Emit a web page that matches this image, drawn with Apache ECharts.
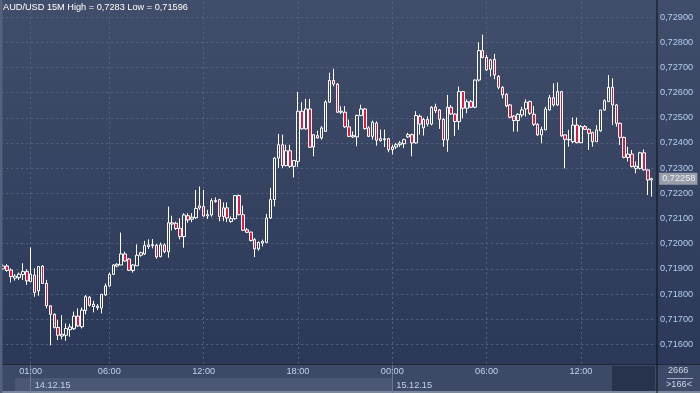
<!DOCTYPE html>
<html>
<head>
<meta charset="utf-8">
<script src="https://cdn.jsdelivr.net/npm/echarts@6/dist/echarts.min.js"></script>
<style>
html,body{margin:0;padding:0;background:#2c3958;}
#c{width:700px;height:393px;}
</style>
</head>
<body>
<div id="c"></div>
<script>
// ---- data (AUD/USD, 15 minute bars) ----
const startDay = 13, startMonth = 12, startYear = 15, startHour = 23, startMinute = 15;
const barCount = 166;

const openPrices = [
0.71900,0.71911,0.71895,0.71863,0.71865,0.71877,0.71889,0.71849,0.71875,0.71812,
0.71911,0.71842,0.71753,0.71719,0.71667,0.71633,0.71636,0.71658,0.71662,0.71712,
0.71670,0.71734,0.71787,0.71750,0.71746,0.71744,0.71796,0.71832,0.71878,0.71911,
0.71915,0.71959,0.71939,0.71893,0.71912,0.71954,0.71959,0.71988,0.71992,0.71993,
0.71948,0.71995,0.71968,0.72078,0.72081,0.72061,0.72028,0.72111,0.72097,0.72103,
0.72142,0.72148,0.72110,0.72114,0.72167,0.72175,0.72108,0.72142,0.72088,0.72099,
0.72191,0.72115,0.72055,0.72046,0.72016,0.71979,0.72002,0.72005,0.72102,0.72175,
0.72340,0.72393,0.72310,0.72369,0.72307,0.72327,0.72526,0.72456,0.72535,0.72384,
0.72429,0.72420,0.72446,0.72562,0.72648,0.72634,0.72522,0.72522,0.72464,0.72424,
0.72424,0.72509,0.72535,0.72460,0.72426,0.72479,0.72409,0.72413,0.72417,0.72373,
0.72384,0.72393,0.72397,0.72424,0.72433,0.72400,0.72506,0.72460,0.72493,0.72475,
0.72543,0.72531,0.72494,0.72412,0.72542,0.72515,0.72485,0.72604,0.72538,0.72564,
0.72542,0.72650,0.72767,0.72740,0.72693,0.72732,0.72664,0.72621,0.72593,0.72551,
0.72507,0.72489,0.72511,0.72535,0.72565,0.72514,0.72474,0.72432,0.72452,0.72531,
0.72580,0.72551,0.72604,0.72432,0.72412,0.72405,0.72471,0.72401,0.72465,0.72454,
0.72441,0.72405,0.72448,0.72531,0.72564,0.72621,0.72551,0.72478,0.72422,0.72342,
0.72356,0.72299,0.72299,0.72361,0.72293,0.72253
];
const closePrices = [
0.71911,0.71893,0.71869,0.71871,0.71879,0.71889,0.71852,0.71879,0.71806,0.71909,
0.71842,0.71753,0.71719,0.71667,0.71636,0.71640,0.71663,0.71669,0.71712,0.71673,
0.71736,0.71789,0.71755,0.71759,0.71752,0.71799,0.71832,0.71878,0.71915,0.71918,
0.71959,0.71931,0.71894,0.71915,0.71954,0.71964,0.71992,0.71995,0.71996,0.71947,
0.71995,0.71968,0.72083,0.72083,0.72060,0.72028,0.72114,0.72094,0.72105,0.72140,
0.72150,0.72110,0.72115,0.72171,0.72171,0.72108,0.72142,0.72102,0.72099,0.72191,
0.72115,0.72053,0.72045,0.72012,0.71979,0.72005,0.72009,0.72102,0.72175,0.72340,
0.72393,0.72310,0.72369,0.72307,0.72330,0.72526,0.72456,0.72535,0.72383,0.72433,
0.72420,0.72460,0.72563,0.72648,0.72634,0.72522,0.72526,0.72464,0.72426,0.72429,
0.72509,0.72535,0.72457,0.72426,0.72482,0.72411,0.72417,0.72417,0.72373,0.72384,
0.72393,0.72400,0.72413,0.72433,0.72400,0.72509,0.72475,0.72493,0.72475,0.72542,
0.72528,0.72494,0.72412,0.72542,0.72515,0.72485,0.72604,0.72538,0.72564,0.72542,
0.72650,0.72767,0.72740,0.72690,0.72730,0.72670,0.72621,0.72591,0.72547,0.72502,
0.72489,0.72514,0.72531,0.72562,0.72518,0.72474,0.72432,0.72454,0.72535,0.72580,
0.72551,0.72604,0.72428,0.72414,0.72414,0.72471,0.72401,0.72465,0.72454,0.72438,
0.72405,0.72452,0.72531,0.72568,0.72621,0.72551,0.72478,0.72422,0.72343,0.72356,
0.72306,0.72308,0.72361,0.72293,0.72253,0.72258
];
const highPrices = [
0.71918,0.71918,0.71902,0.71879,0.71885,0.71922,0.71898,0.71985,0.71902,0.71911,
0.71915,0.71856,0.71755,0.71723,0.71697,0.71716,0.71683,0.71681,0.71730,0.71743,
0.71746,0.71796,0.71792,0.71773,0.71760,0.71799,0.71842,0.71885,0.71919,0.71922,
0.72044,0.71968,0.71942,0.71919,0.71997,0.71968,0.72011,0.72017,0.72018,0.71999,
0.72004,0.72001,0.72147,0.72111,0.72087,0.72101,0.72121,0.72121,0.72121,0.72213,
0.72227,0.72213,0.72134,0.72180,0.72184,0.72178,0.72164,0.72164,0.72108,0.72193,
0.72195,0.72151,0.72062,0.72047,0.72022,0.72009,0.72016,0.72118,0.72221,0.72343,
0.72436,0.72433,0.72393,0.72393,0.72330,0.72603,0.72562,0.72575,0.72575,0.72433,
0.72449,0.72467,0.72570,0.72679,0.72695,0.72638,0.72546,0.72546,0.72493,0.72446,
0.72513,0.72552,0.72539,0.72466,0.72489,0.72486,0.72453,0.72453,0.72420,0.72393,
0.72400,0.72407,0.72417,0.72440,0.72437,0.72526,0.72513,0.72500,0.72506,0.72546,
0.72556,0.72535,0.72498,0.72591,0.72551,0.72518,0.72624,0.72607,0.72573,0.72571,
0.72652,0.72800,0.72830,0.72750,0.72734,0.72754,0.72670,0.72626,0.72597,0.72555,
0.72511,0.72518,0.72544,0.72573,0.72568,0.72547,0.72478,0.72465,0.72544,0.72591,
0.72637,0.72640,0.72607,0.72434,0.72452,0.72501,0.72501,0.72471,0.72471,0.72458,
0.72445,0.72471,0.72531,0.72573,0.72670,0.72657,0.72555,0.72481,0.72425,0.72385,
0.72372,0.72326,0.72365,0.72374,0.72295,0.72262
];
const lowPrices = [
0.71895,0.71889,0.71846,0.71853,0.71856,0.71856,0.71836,0.71849,0.71789,0.71793,
0.71840,0.71743,0.71596,0.71663,0.71617,0.71620,0.71614,0.71630,0.71657,0.71669,
0.71663,0.71719,0.71750,0.71727,0.71736,0.71723,0.71793,0.71829,0.71875,0.71906,
0.71915,0.71928,0.71891,0.71885,0.71912,0.71948,0.71955,0.71979,0.71981,0.71940,
0.71946,0.71962,0.71944,0.72052,0.72054,0.72017,0.71984,0.72083,0.72085,0.72098,
0.72134,0.72107,0.72098,0.72107,0.72163,0.72089,0.72089,0.72085,0.72083,0.72095,
0.72112,0.72050,0.72042,0.72009,0.71947,0.71972,0.71989,0.72002,0.72098,0.72148,
0.72301,0.72301,0.72307,0.72301,0.72263,0.72305,0.72453,0.72453,0.72380,0.72347,
0.72417,0.72413,0.72444,0.72559,0.72625,0.72519,0.72515,0.72460,0.72424,0.72420,
0.72387,0.72506,0.72453,0.72423,0.72413,0.72389,0.72405,0.72384,0.72363,0.72354,
0.72376,0.72384,0.72380,0.72420,0.72347,0.72397,0.72433,0.72429,0.72466,0.72470,
0.72519,0.72456,0.72385,0.72365,0.72511,0.72428,0.72452,0.72498,0.72518,0.72538,
0.72538,0.72644,0.72736,0.72686,0.72664,0.72653,0.72613,0.72577,0.72542,0.72498,
0.72445,0.72445,0.72502,0.72505,0.72511,0.72467,0.72428,0.72399,0.72452,0.72529,
0.72544,0.72547,0.72425,0.72299,0.72385,0.72399,0.72399,0.72399,0.72452,0.72372,
0.72385,0.72405,0.72445,0.72528,0.72564,0.72471,0.72465,0.72392,0.72339,0.72326,
0.72303,0.72279,0.72295,0.72290,0.72193,0.72187
];

// tick labels
const timeTicks = ["14.12.15 01:00","14.12.15 06:00","14.12.15 12:00","14.12.15 18:00",
                   "15.12.15 00:00","15.12.15 06:00","15.12.15 12:00"];
const dateTicks = ["14.12.15 01:00","15.12.15 00:00"];
const priceMin = 0.715, priceMax = 0.730, priceStep = 0.001;
const titleText = "AUD/USD 15M High = 0,7283 Low = 0,71596";
const footerTop = "2666", footerBottom = ">166<";

// ---- categories (15-minute timestamps) ----
function pad(n){return (n<10?'0':'')+n;}
const categories = [];
{
  let d = startDay, h = startHour, m = startMinute;
  for (let i = 0; i < barCount; i++) {
    categories.push(pad(d)+'.'+pad(startMonth)+'.'+pad(startYear)+' '+pad(h)+':'+pad(m));
    m += 15; if (m >= 60) { m -= 60; h++; if (h >= 24) { h = 0; d++; } }
  }
}
const candleData = openPrices.map((o,i)=>[o, closePrices[i], lowPrices[i], highPrices[i]]);
const lastIndex = closePrices.length-1;
const lastClose = closePrices[lastIndex];
const fmtPrice = v => v.toFixed(5).replace('.', ',');

const FONT = 'Liberation Sans';
const chart = echarts.init(document.getElementById('c'), null, {renderer:'canvas'});
const gridLine = {color:'#56647f', width:1, type:[2,3]};

const option = {
  animation: false,
  title: {
    text: titleText, left: 3, top: 3, padding: 0,
    textStyle: {color:'#ffffff', fontSize:9.2, fontWeight:'normal', fontFamily:FONT}
  },
  graphic: [
    {type:'rect', z:-10, shape:{x:0,y:0,width:700,height:364},
      style:{fill:new echarts.graphic.LinearGradient(0,0,0,1,[{offset:0,color:'#404e6b'},{offset:1,color:'#2b3858'}])}},
    {type:'rect', z:3, shape:{x:0,y:364,width:700,height:29}, style:{fill:'#3d4a67'}},
    {type:'rect', z:3, shape:{x:0,y:364,width:700,height:1}, style:{fill:'#1f2739'}},
    {type:'rect', z:3, shape:{x:15,y:378,width:378,height:13}, style:{fill:'#4a5775'}},
    {type:'rect', z:3, shape:{x:612,y:366,width:43,height:25}, style:{fill:'#27324c'}},
    {type:'rect', z:3, shape:{x:0,y:391,width:700,height:2}, style:{fill:'#7b879d'}},
    {type:'rect', z:9, shape:{x:0,y:0,width:2.5,height:393}, style:{fill:'#55627d'}},
    {type:'rect', z:9, shape:{x:656.5,y:0,width:1,height:393}, style:{fill:'#0c1019'}},
    {type:'rect', z:9, shape:{x:667,y:378,width:26,height:1}, style:{fill:'#9aa6bb'}},
    {type:'text', z:9, left:668, top:366, style:{text:footerTop, fill:'#c8d4e8', font:'9.2px '+FONT}},
    {type:'text', z:9, left:666, top:380, style:{text:footerBottom, fill:'#c8d4e8', font:'9.2px '+FONT}}
  ],
  grid: [
    {left:1.25, width:652.4, top:-8.07, height:377.55, outerBoundsMode:'none', containLabel:false},
    {left:1.25, width:652.4, top:364, height:29, outerBoundsMode:'none', containLabel:false}
  ],
  xAxis: [
    {gridIndex:0, type:'category', data:categories, boundaryGap:true,
      axisLine:{show:false}, axisTick:{show:false}, axisLabel:{show:false},
      splitLine:{show:true, alignWithLabel:true, interval:(i,v)=>timeTicks.includes(v), lineStyle:gridLine}},
    {gridIndex:1, type:'category', data:categories, boundaryGap:true, position:'top', z:5,
      axisLine:{show:false}, axisTick:{show:false}, splitLine:{show:false},
      axisLabel:{inside:true, margin:3, interval:(i,v)=>timeTicks.includes(v), formatter:v=>v.slice(9),
        color:'#c3d2ea', fontSize:9.2, fontFamily:FONT}},
    {gridIndex:1, type:'category', data:categories, boundaryGap:true, position:'bottom', z:5,
      axisLine:{show:false}, splitLine:{show:false},
      axisTick:{show:true, inside:true, length:28, alignWithLabel:true, interval:(i,v)=>dateTicks.includes(v),
        lineStyle:{color:'#6c7892', width:1}},
      axisLabel:{inside:true, margin:3.5, interval:(i,v)=>dateTicks.includes(v), formatter:v=>v.slice(0,8),
        align:'left', padding:[0,0,0,4], color:'#c3d2ea', fontSize:9.2, fontFamily:FONT}}
  ],
  yAxis: [
    {gridIndex:0, type:'value', position:'right', offset:3.3, min:priceMin, max:priceMax, interval:priceStep,
      axisLine:{show:false}, axisTick:{show:false},
      axisLabel:{margin:3, showMinLabel:false, showMaxLabel:false, hideOverlap:false, formatter:fmtPrice,
        color:'#b3cdf0', fontSize:9.2, fontFamily:FONT},
      splitLine:{show:true, showMinLine:false, showMaxLine:false, lineStyle:gridLine}},
    {gridIndex:1, type:'value', show:false}
  ],
  series: [{
    type:'candlestick', xAxisIndex:0, yAxisIndex:0, data:candleData, barWidth:3,
    itemStyle:{color:'transparent', color0:'#e3163e', borderColor:'#ffffff', borderColor0:'#ffffff', borderWidth:1}
  },{
    type:'scatter', xAxisIndex:0, yAxisIndex:0, z:8, clip:false, silent:true,
    symbol:'circle', symbolSize:1, itemStyle:{color:'rgba(0,0,0,0)'},
    data:[[lastIndex, lastClose]],
    label:{show:true, position:'right', distance:7, formatter:()=>fmtPrice(lastClose),
      backgroundColor:'#b2b6be', color:'#ffffff', padding:[2,2,1,3], fontSize:9.2, fontFamily:FONT},
    labelLayout:{hideOverlap:false}
  }]
};
chart.setOption(option);
</script>
</body>
</html>
